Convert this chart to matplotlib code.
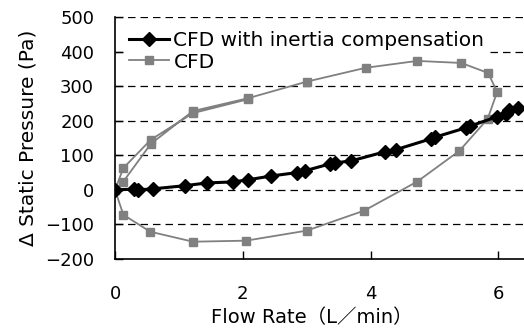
import matplotlib.pyplot as plt

plt.rcParams['font.family'] = ['DejaVu Sans', 'Noto Sans CJK JP']
plt.rcParams['axes.unicode_minus'] = True

# CFD with inertia compensation (flow rate L/min, pressure Pa)
comp_x = [0.0, 0.30, 0.36, 0.60, 1.09, 1.44, 1.85, 2.08, 2.44, 2.85, 2.97,
          3.36, 3.45, 3.70, 4.22, 4.39, 4.95, 5.00, 5.50, 5.55, 5.97, 6.12,
          6.17, 6.30]
comp_y = [0, 2, 0, 3, 12, 20, 23, 29, 40, 50, 55,
          75, 78, 84, 110, 116, 148, 152, 180, 184, 211, 220,
          231, 237]

# CFD without compensation (hysteresis loop)
cfd_x = [0.0, 0.13, 0.56, 1.22, 2.08, 3.00, 3.92, 4.73, 5.42, 5.84, 5.98,
         5.83, 5.39, 4.73, 3.90, 3.00, 2.05, 1.22, 0.55, 0.13, 0.0,
         0.13, 0.56, 1.22, 2.08]
cfd_y = [0, 24, 133, 228, 265, 313, 353, 373, 367, 338, 283,
         205, 113, 24, -60, -118, -147, -150, -121, -72, 0,
         63, 145, 222, 262]

x_ticks = [0, 2, 4, 6]
y_ticks = [-200, -100, 0, 100, 200, 300, 400, 500]

fig = plt.figure(figsize=(5.24, 3.29), dpi=100)
ax = fig.add_axes([0.2195, 0.2128, 0.7805, 0.7355])

ax.plot(cfd_x, cfd_y, color='#808080', lw=1.3, marker='s', ms=5.5,
        mec='#808080', mfc='#808080', label='CFD', zorder=3)
ax.plot(comp_x, comp_y, color='black', lw=2.2, marker='D', ms=7,
        mec='black', mfc='black', label='CFD with inertia compensation',
        zorder=4)

for yv in y_ticks[1:]:
    ax.axhline(yv, color='black', lw=0.9, ls=(0, (6, 4)), zorder=1)

ax.set_xlim(0, 6.4)
ax.set_ylim(-200, 500)
ax.set_xticks(x_ticks)
ax.set_yticks(y_ticks)
ax.tick_params(direction='in', length=6, width=1, labelsize=13)
ax.tick_params(axis='x', pad=19)
ax.tick_params(axis='y', pad=15)
for s in ['top', 'right']:
    ax.spines[s].set_visible(False)
for s in ['left', 'bottom']:
    ax.spines[s].set_linewidth(1.2)

ax.set_xlabel('Flow Rate（L／min）', fontsize=14)
ax.xaxis.set_label_coords(0.48, -0.205)
ax.set_ylabel('Δ Static Pressure (Pa)', fontsize=14.5)
ax.yaxis.set_label_coords(-0.19, 0.5)

h, l = ax.get_legend_handles_labels()
leg = ax.legend(h[::-1], l[::-1], loc='upper left', fontsize=14.5,
                frameon=True, fancybox=False, framealpha=1,
                edgecolor='none', handlelength=2.0, borderaxespad=0.5,
                labelspacing=0.12, handletextpad=0.2, borderpad=0.2)
leg.set_zorder(2)

fig.savefig('out.png', dpi=100)
